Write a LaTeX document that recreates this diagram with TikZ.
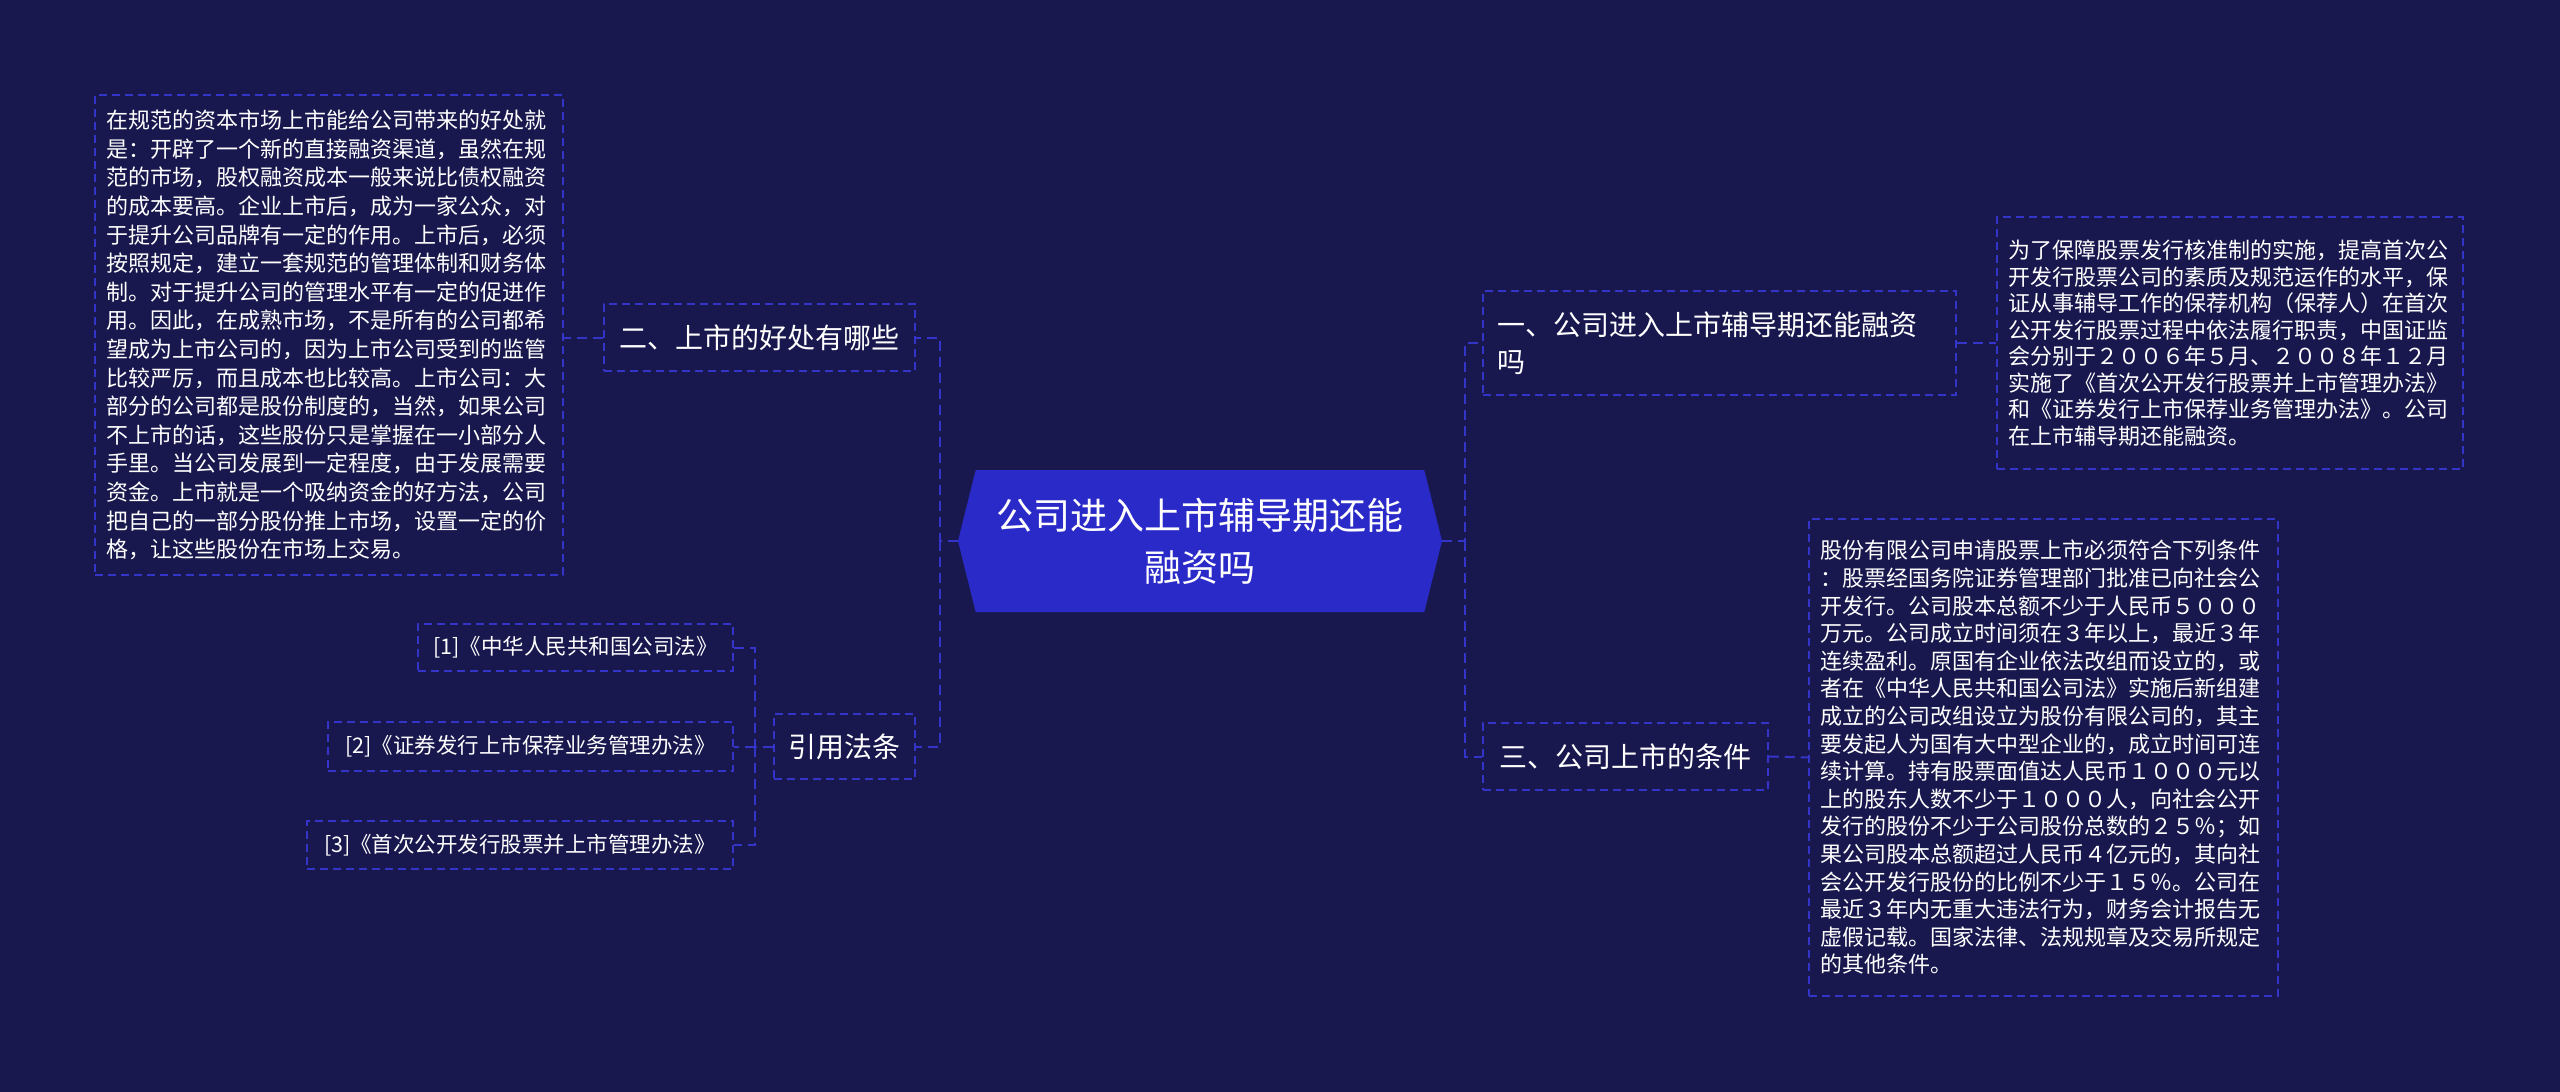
\documentclass[tikz,border=0pt]{standalone}
\usepackage{fontspec}
\setmainfont{Noto Sans CJK SC}
\usetikzlibrary{shapes.symbols,positioning}
\definecolor{bgblue}{RGB}{25,24,78}
\definecolor{lineblue}{RGB}{52,52,200}
\definecolor{hubblue}{RGB}{42,42,200}

\tikzset{
  leaf/.style={draw=lineblue,dash pattern=on 8pt off 5pt,line width=1.5pt,text=white,align=left,inner sep=0pt},
  branch/.style={draw=lineblue,dash pattern=on 8pt off 5pt,line width=1.5pt,text=white,inner sep=0pt,font=\fontsize{28}{37}\selectfont},
  lawref/.style={draw=lineblue,dash pattern=on 8pt off 5pt,line width=1.5pt,text=white,inner sep=0pt,font=\fontsize{21.5}{26}\selectfont},
  link/.style={draw=lineblue,dash pattern=on 10pt off 6pt,line width=2pt},
}

\begin{document}
\begin{tikzpicture}[x=1pt,y=-1pt]
\fill[bgblue] (0,0) rectangle (2560,1092);
\useasboundingbox (0,0) rectangle (2560,1092);

% centre
\node[signal,signal to=west and east,signal pointer angle=152,fill=hubblue,text=white,
  minimum width=484pt,minimum height=142pt,inner sep=0pt,align=center,
  font=\fontsize{37}{52}\selectfont] (ctr) at (1200,541) {公司进入上市辅导期还能\\融资吗};

% right side
\node[branch,minimum width=473pt,minimum height=104pt,align=left,text width=445pt] (b1) at (1719.5,343)
  {一、公司进入上市辅导期还能融资\\吗};
\node[leaf,minimum width=466pt,minimum height=252pt,text width=444pt,font=\fontsize{22}{26.5}\selectfont] (l1) at (2230,343)
  {为了保障股票发行核准制的实施，提高首次公\\开发行股票公司的素质及规范运作的水平，保\\证从事辅导工作的保荐机构（保荐人）在首次\\公开发行股票过程中依法履行职责，中国证监\\会分别于２００６年５月、２００８年１２月\\实施了《首次公开发行股票并上市管理办法》\\和《证券发行上市保荐业务管理办法》。公司\\在上市辅导期还能融资。};
\node[branch,minimum width=285pt,minimum height=67pt] (b3) at (1625.5,756.5) {三、公司上市的条件};
\node[leaf,minimum width=469pt,minimum height=477pt,text width=447pt,font=\fontsize{22}{27.6}\selectfont] (l3) at (2043.5,757.5)
  {股份有限公司申请股票上市必须符合下列条件\\：股票经国务院证券管理部门批准已向社会公\\开发行。公司股本总额不少于人民币５０００\\万元。公司成立时间须在３年以上，最近３年\\连续盈利。原国有企业依法改组而设立的，或\\者在《中华人民共和国公司法》实施后新组建\\成立的公司改组设立为股份有限公司的，其主\\要发起人为国有大中型企业的，成立时间可连\\续计算。持有股票面值达人民币１０００元以\\上的股东人数不少于１０００人，向社会公开\\发行的股份不少于公司股份总数的２５％；如\\果公司股本总额超过人民币４亿元的，其向社\\会公开发行股份的比例不少于１５％。公司在\\最近３年内无重大违法行为，财务会计报告无\\虚假记载。国家法律、法规规章及交易所规定\\的其他条件。};

% left side
\node[branch,minimum width=311pt,minimum height=67pt] (b2) at (759.5,337.5) {二、上市的好处有哪些};
\node[leaf,minimum width=468pt,minimum height=480pt,text width=446pt,font=\fontsize{22}{28.6}\selectfont] (l2) at (329,335)
  {在规范的资本市场上市能给公司带来的好处就\\是：开辟了一个新的直接融资渠道，虽然在规\\范的市场，股权融资成本一般来说比债权融资\\的成本要高。企业上市后，成为一家公众，对\\于提升公司品牌有一定的作用。上市后，必须\\按照规定，建立一套规范的管理体制和财务体\\制。对于提升公司的管理水平有一定的促进作\\用。因此，在成熟市场，不是所有的公司都希\\望成为上市公司的，因为上市公司受到的监管\\比较严厉，而且成本也比较高。上市公司：大\\部分的公司都是股份制度的，当然，如果公司\\不上市的话，这些股份只是掌握在一小部分人\\手里。当公司发展到一定程度，由于发展需要\\资金。上市就是一个吸纳资金的好方法，公司\\把自己的一部分股份推上市场，设置一定的价\\格，让这些股份在市场上交易。};
\node[branch,minimum width=141pt,minimum height=65pt] (b4) at (844.5,746.5) {引用法条};
\node[lawref,minimum width=315pt,minimum height=47pt] (r1) at (575.5,647.5) {[1]《中华人民共和国公司法》};
\node[lawref,minimum width=405pt,minimum height=49pt] (r2) at (530.5,746.5) {[2]《证券发行上市保荐业务管理办法》};
\node[lawref,minimum width=426pt,minimum height=48pt] (r3) at (520,845) {[3]《首次公开发行股票并上市管理办法》};

% connectors
\coordinate (lj) at (940,541);
\coordinate (rj) at (1465,541);
\coordinate (fj) at (755,746.5);
\draw[link] (ctr.west) -- (lj) |- (b2.east);
\draw[link] (lj) |- (b4.east);
\draw[link] (ctr.east) -- (rj) |- (b1.west);
\draw[link] (rj) |- (b3.west);
\draw[link] (b2.west) -- (l2.east |- b2.west);
\draw[link] (b1.east) -- (l1.west);
\draw[link] (b3.east) -- (l3.west);
\draw[link] (b4.west) -- (fj) |- (r1.east);
\draw[link] (fj) -- (r2.east);
\draw[link] (fj) |- (r3.east);
\end{tikzpicture}
\end{document}
